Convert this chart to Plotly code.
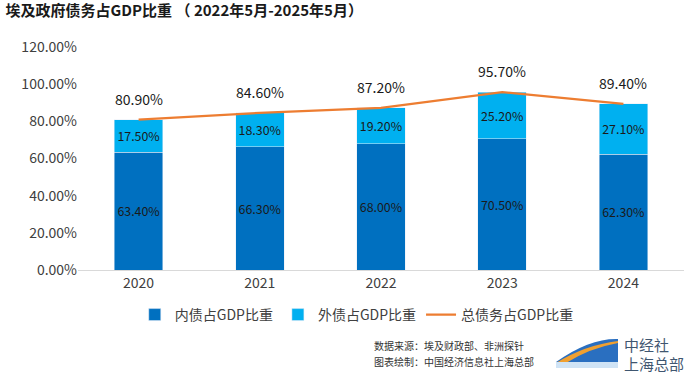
import plotly.graph_objects as go

years = ["2020", "2021", "2022", "2023", "2024"]
domestic = [63.4, 66.3, 68.0, 70.5, 62.3]
external = [17.5, 18.3, 19.2, 25.2, 27.1]
total = [80.9, 84.6, 87.2, 95.7, 89.4]
tick_vals = [0, 20, 40, 60, 80, 100, 120]
tick_text = ["0.00%", "20.00%", "40.00%", "60.00%", "80.00%", "100.00%", "120.00%"]

FONT = "Noto Sans CJK SC"
L, R, T, B = 78, 16, 47, 109
W, H = 700, 379
PW, PH = W - L - R, H - T - B


def px(x):
    return (x - L) / PW


def py(y):
    return (H - B - y) / PH


fig = go.Figure()
fig.add_trace(go.Bar(
    x=years, y=domestic, name="内债占GDP比重",
    marker=dict(color="#0070C0"),
    text=[f"{v:.2f}%" for v in domestic], textposition="inside",
    insidetextanchor="middle", textangle=0,
    textfont=dict(color="#1a1a1a", size=14, family=FONT),
    hoverinfo="skip",
))
fig.add_trace(go.Bar(
    x=years, y=external, name="外债占GDP比重",
    marker=dict(color="#00B0F0"),
    text=[f"{v:.2f}%" for v in external], textposition="inside",
    insidetextanchor="middle", textangle=0,
    textfont=dict(color="#1a1a1a", size=14, family=FONT),
    hoverinfo="skip",
))
fig.add_trace(go.Scatter(
    x=years, y=total, name="总债务占GDP比重",
    mode="lines",
    line=dict(color="#ED7D31", width=2.25),
    hoverinfo="skip",
))
for i, v in enumerate(total):
    fig.add_annotation(x=i, y=v, xref="x", yref="y", text=f"{v:.2f}%", showarrow=False,
                       yanchor="bottom", yshift=9,
                       font=dict(color="#1a1a1a", size=14, family=FONT))

fig.update_layout(
    width=W, height=H,
    barmode="stack", bargap=0.6,
    plot_bgcolor="white", paper_bgcolor="white",
    margin=dict(l=L, r=R, t=T, b=B),
    font=dict(family=FONT, color="#404040"),
    showlegend=True,
    legend=dict(orientation="h", x=0.46, xanchor="center", y=-0.13, yanchor="top",
                font=dict(size=14, color="#404040"), traceorder="normal",
                itemwidth=30),
    title=dict(text="<b>埃及政府债务占GDP比重 （ 2022年5月-2025年5月）</b>",
               x=0.008, xanchor="left", y=0.985, yanchor="top",
               font=dict(size=15, color="#1a1a1a", family=FONT)),
    uniformtext=dict(mode=False),
)
fig.update_xaxes(
    type="category",
    showline=True, linecolor="#d9d9d9", linewidth=1,
    ticks="", tickfont=dict(size=14, color="#404040"),
    showgrid=False,
)
fig.update_yaxes(
    range=[0, 120], tickvals=tick_vals, ticktext=tick_text,
    showgrid=False, zeroline=False, showline=False,
    tickfont=dict(size=14, color="#404040"),
)

fig.add_annotation(text="数据来源：埃及财政部、非洲探针", xref="paper", yref="paper",
                   x=px(372), y=py(345), xanchor="left", yanchor="middle",
                   showarrow=False, font=dict(size=10, color="#333333", family=FONT))
fig.add_annotation(text="图表绘制：中国经济信息社上海总部", xref="paper", yref="paper",
                   x=px(372), y=py(361), xanchor="left", yanchor="middle",
                   showarrow=False, font=dict(size=10, color="#333333", family=FONT))
fig.add_annotation(text="中经社", xref="paper", yref="paper",
                   x=px(622), y=py(344), xanchor="left", yanchor="middle",
                   showarrow=False, font=dict(size=15, color="#3f5670", family=FONT))
fig.add_annotation(text="上海总部", xref="paper", yref="paper",
                   x=px(622), y=py(363), xanchor="left", yanchor="middle",
                   showarrow=False, font=dict(size=15, color="#3f5670", family=FONT))
# logo swoosh
fig.add_shape(type="path", xref="paper", yref="paper",
              path=(f"M {px(556)},{py(362)} Q {px(590)},{py(338)} {px(618)},{py(339)} "
                    f"L {px(618)},{py(362)} Z"),
              fillcolor="#2a6fc0", line=dict(width=0))
fig.add_shape(type="path", xref="paper", yref="paper",
              path=(f"M {px(556)},{py(363)} Q {px(585)},{py(345)} {px(618)},{py(341)} "
                    f"L {px(618)},{py(343)} Q {px(590)},{py(348)} {px(566)},{py(363)} Z"),
              fillcolor="#f0a030", line=dict(width=0))
fig.add_shape(type="rect", xref="paper", yref="paper",
              x0=px(556), x1=px(618), y0=py(368), y1=py(362),
              fillcolor="#cfe3f5", line=dict(width=0))

fig.write_html("out.html", config={"displayModeBar": False},
               post_script="document.body.style.margin='0';")
